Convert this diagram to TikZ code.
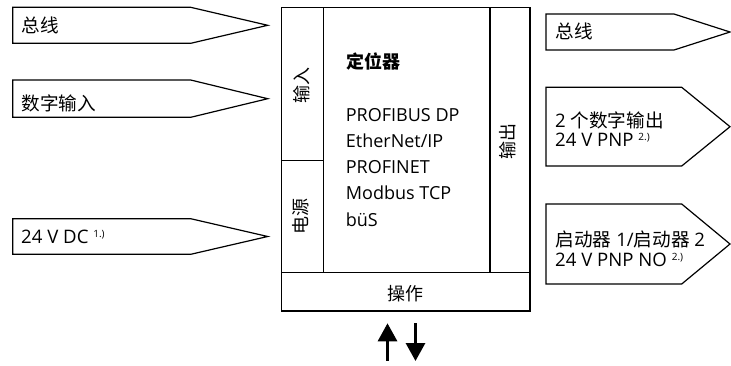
\documentclass[tikz,border=0pt]{standalone}
\usepackage{fontspec}
\setmainfont{Open Sans}
\newfontfamily\cjk{Noto Sans CJK SC}
\usetikzlibrary{arrows.meta}
\newcommand{\myfoot}[1]{\raisebox{5.8pt}{\fontsize{10}{10}\selectfont #1}}
\tikzset{
  lbl/.style={anchor=base west, inner sep=0pt, font=\fontsize{18}{19}\selectfont},
  albl/.style={anchor=base west, inner sep=0pt, font=\fontsize{18.6}{19}\selectfont},
  vlbl/.style={rotate=90, inner sep=0pt, font=\fontsize{18}{19}\selectfont\cjk},
  outline/.style={draw=black, line width=1.2pt},
  bigarrow/.style={line width=3pt, -{Triangle[width=19pt,length=18pt]}},
}
\begin{document}
\begin{tikzpicture}[x=1pt,y=-1pt]
\useasboundingbox (0,0) rectangle (731,365);

% left input arrows
\draw[outline] (12.7,7.3) -- (190.7,7.3) -- (267.7,25.3) -- (190.7,43.3) -- (12.7,43.3) -- cycle;
\draw[outline] (12.7,80) -- (190.7,80) -- (267.7,98.7) -- (190.7,117.3) -- (12.7,117.3) -- cycle;
\draw[outline] (12.7,218.7) -- (190.7,218.7) -- (267.7,236.5) -- (190.7,254.3) -- (12.7,254.3) -- cycle;
\node[albl] (lbus) at (21.5,32.6) {\cjk 总线};
\node[albl] (ldig) at (21.5,110) {\cjk 数字输入};
\node[albl] (lpow) at (21,243.3) {24 V DC \myfoot{1.)}};

% main box
\draw[outline] (281.7,7.3) rectangle (530,311);
\draw[outline] (323.3,7.3) -- (323.3,272.7);
\draw[outline] (490,7.3) -- (490,272.7);
\draw[outline] (281.7,272.7) -- (530,272.7);
\draw[outline] (281.7,160.5) -- (323.3,160.5);

\node[vlbl] (vin) at (302,85) {输入};
\node[vlbl] (vpow) at (301,216.5) {电源};
\node[vlbl] (vout) at (508,141) {输出};
\node[inner sep=0pt, font=\fontsize{18}{19}\selectfont\cjk] (op) at (405.8,293.5) {操作};

\node[lbl, font=\fontsize{18}{19}\selectfont\cjk\bfseries] (title) at (346,68.5) {定位器};
\node[lbl] (p1) at (345.7,121) {PROFIBUS DP};
\node[lbl] (p2) at (345.7,147.3) {EtherNet/IP};
\node[lbl] (p3) at (345.7,173.6) {PROFINET};
\node[lbl] (p4) at (345.7,199.9) {Modbus TCP};
\node[lbl] (p5) at (345.7,226.2) {büS};

% right output arrows
\draw[outline] (546,14) -- (674,14) -- (730,32) -- (674,50) -- (546,50) -- cycle;
\draw[outline] (546,87.3) -- (681.7,87.3) -- (730,126.7) -- (681.7,166) -- (546,166) -- cycle;
\draw[outline] (546,204) -- (681.7,204) -- (730,244) -- (681.7,284) -- (546,284) -- cycle;
\node[albl] (rbus) at (555.5,38.5) {\cjk 总线};
\node[albl] (rdo1) at (555,127.3) {2 {\cjk 个数字输出}};
\node[albl] (rdo2) at (555,146.7) {24 V PNP \myfoot{2.)}};
\node[albl] (rst1) at (555.5,246.7) {{\cjk 启动器} 1/{\cjk 启动器} 2};
\node[albl] (rst2) at (555,266.7) {24 V PNP NO \myfoot{2.)}};

% operation arrows
\coordinate (upS) at (387.5,360.5);
\coordinate (upE) at (387.5,323.3);
\coordinate (dnS) at (415.5,323.3);
\coordinate (dnE) at (415.5,361);
\draw[bigarrow] (upS) -- (upE);
\draw[bigarrow] (dnS) -- (dnE);
\end{tikzpicture}
\end{document}
